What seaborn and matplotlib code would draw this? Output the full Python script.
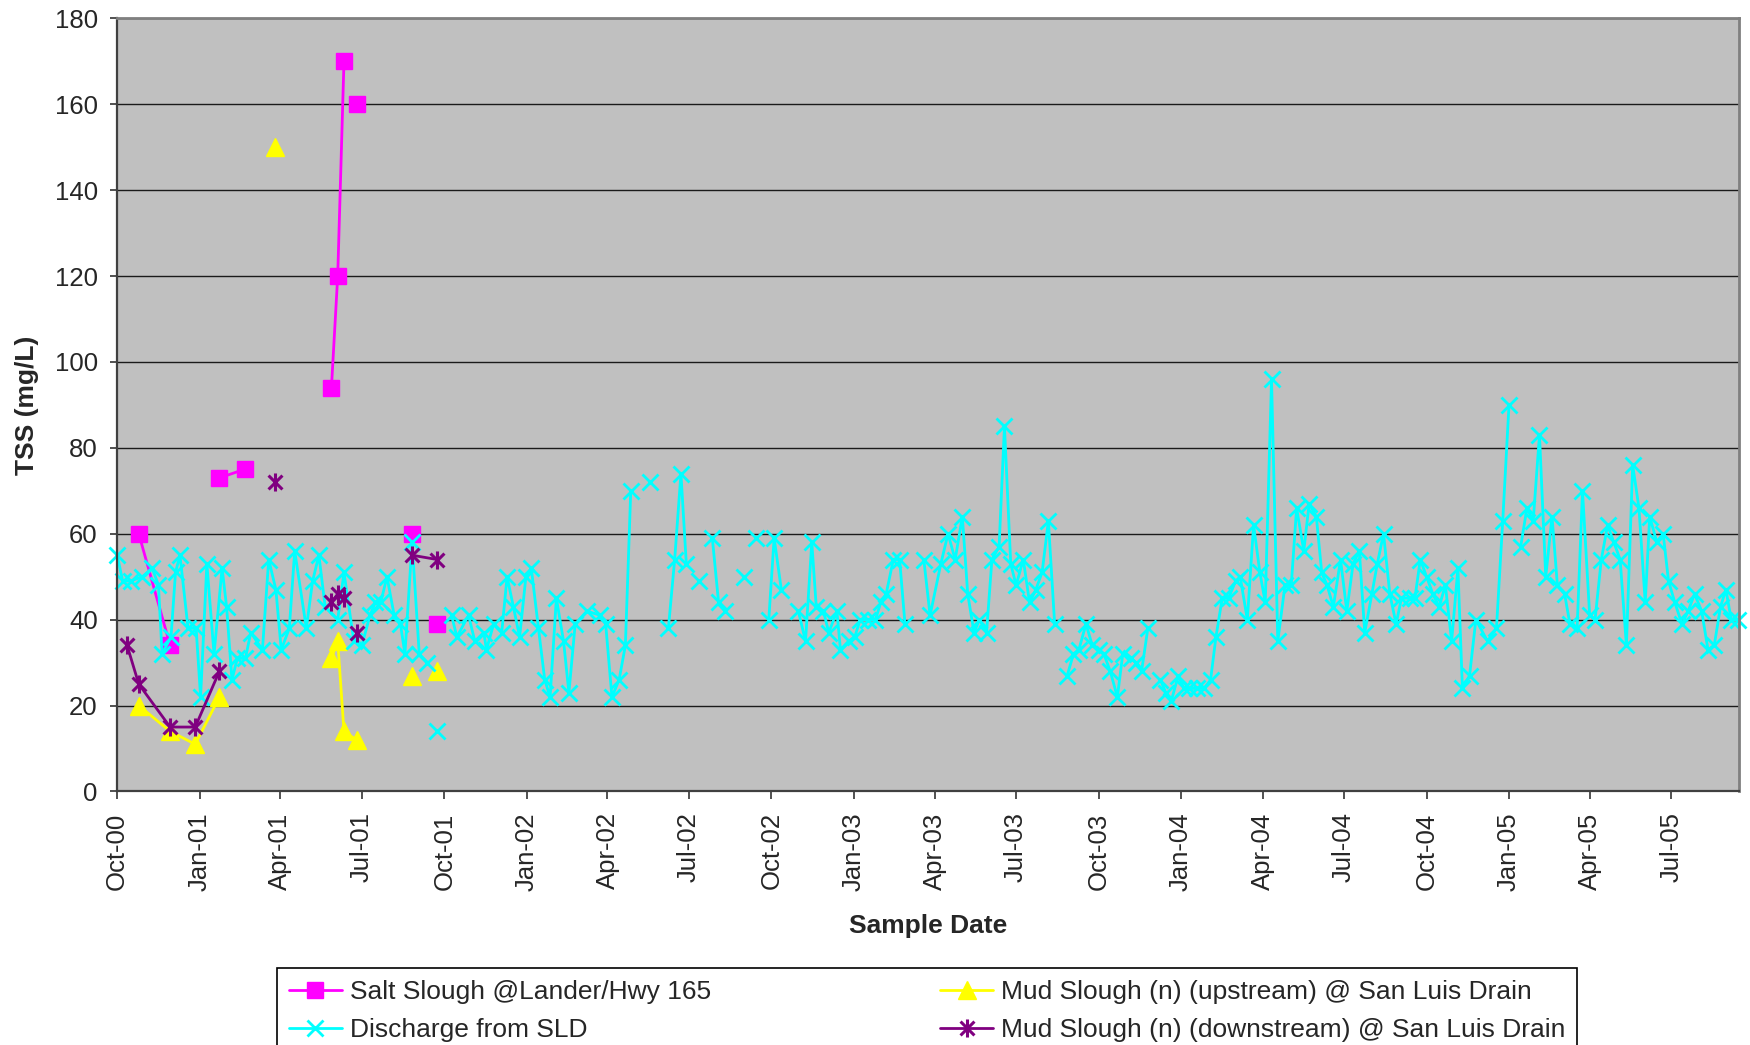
import matplotlib
matplotlib.use("Agg")
import matplotlib.pyplot as plt
import matplotlib.dates as mdates
from matplotlib.lines import Line2D
from matplotlib.path import Path
import numpy as np
import pandas as pd
import seaborn as sns

# None = break in the line (blank cell in the original sheet)
salt_dates = ["2000-10-25", "2000-11-29", None, "2001-01-23", "2001-02-20", None,
              "2001-05-28", "2001-06-04", "2001-06-11", None, "2001-06-25", None,
              "2001-08-26", None, "2001-09-23"]
salt_tss = [60, 34, None, 73, 75, None, 94, 120, 170, None, 160, None, 60, None, 39]

mud_up_dates = ["2000-10-25", "2000-11-29", "2000-12-27", "2001-01-23", None,
                "2001-03-26", None, "2001-05-28", "2001-06-04", "2001-06-11",
                "2001-06-25", None, "2001-08-26", None, "2001-09-23"]
mud_up_tss = [20, 14, 11, 22, None, 150, None, 31, 35, 14, 12, None, 27, None, 28]

mud_down_dates = ["2000-10-12", "2000-10-25", "2000-11-29", "2000-12-27", "2001-01-23",
                  None, "2001-03-26", None, "2001-05-28", "2001-06-04", "2001-06-11",
                  None, "2001-06-25", None, "2001-08-26", "2001-09-23"]
mud_down_tss = [34, 25, 15, 15, 28, None, 72, None, 44, 46, 45, None, 37, None, 55, 54]

sld_dates = [
    "2000-10-01", "2000-10-07", "2000-10-16", "2000-10-29", "2000-11-09", "2000-11-16",
    "2000-11-20", "2000-11-30", "2000-12-05", "2000-12-10", "2000-12-19", "2000-12-28",
    "2001-01-02", "2001-01-09", "2001-01-17", "2001-01-26", "2001-01-31", "2001-02-06",
    "2001-02-12", "2001-02-21", "2001-02-27", "2001-03-12", "2001-03-19", "2001-03-27",
    "2001-04-02", "2001-04-11", "2001-04-17", "2001-04-30", "2001-05-07", "2001-05-14",
    "2001-05-21", "2001-06-04", "2001-06-11", "2001-06-22", "2001-07-01", "2001-07-10",
    "2001-07-16", "2001-07-22", "2001-07-29", "2001-08-06", "2001-08-13", "2001-08-18",
    "2001-08-26", "2001-09-03", "2001-09-12", None, "2001-09-23", None,
    "2001-10-09", "2001-10-15", "2001-10-28", "2001-11-04", "2001-11-14", "2001-11-17",
    "2001-11-25", "2001-12-04", "2001-12-10", "2001-12-17", "2001-12-24", "2001-12-31",
    "2002-01-06", "2002-01-14", "2002-01-21", "2002-01-27", "2002-02-03", "2002-02-11",
    "2002-02-17", "2002-02-24", "2002-03-09", "2002-03-24", "2002-03-30", "2002-04-06",
    "2002-04-14", "2002-04-21", "2002-04-27", None, "2002-05-18", None,
    "2002-06-08", "2002-06-15", "2002-06-22", "2002-06-28", None, "2002-07-12", None,
    "2002-07-27", "2002-08-03", "2002-08-10", None, "2002-08-31", None, "2002-09-14", None,
    "2002-09-28", "2002-10-04", "2002-10-12", None,
    "2002-10-31", "2002-11-08", "2002-11-15", "2002-11-20", "2002-11-28", "2002-12-04",
    "2002-12-13", "2002-12-17", "2002-12-26", "2003-01-02", "2003-01-08", "2003-01-17",
    "2003-01-25", "2003-01-31", "2003-02-06", "2003-02-14", "2003-02-21", "2003-02-27", None,
    "2003-03-20", "2003-03-27", "2003-04-08", "2003-04-16", "2003-04-24", "2003-05-02",
    "2003-05-08", "2003-05-15", "2003-05-21", "2003-05-29", "2003-06-04", "2003-06-12",
    "2003-06-18", "2003-06-25", "2003-07-01", "2003-07-09", "2003-07-16", "2003-07-23",
    "2003-07-30", "2003-08-06", "2003-08-13", None,
    "2003-08-27", "2003-09-03", "2003-09-09", "2003-09-17", "2003-09-24", "2003-10-01",
    "2003-10-07", "2003-10-14", "2003-10-22", "2003-10-28", "2003-11-06", "2003-11-12",
    "2003-11-18", "2003-11-25", None,
    "2003-12-09", "2003-12-15", "2003-12-21", "2003-12-29", "2004-01-04", "2004-01-10",
    "2004-01-19", "2004-01-27", "2004-02-03", "2004-02-09", "2004-02-16", "2004-02-23",
    "2004-03-02", "2004-03-07", "2004-03-15", "2004-03-22", "2004-03-29", "2004-04-04",
    "2004-04-11", "2004-04-18", "2004-04-26", "2004-05-03", "2004-05-09", "2004-05-17",
    "2004-05-23", "2004-05-31", "2004-06-06", "2004-06-12", "2004-06-19", "2004-06-27",
    "2004-07-04", "2004-07-11", "2004-07-18", "2004-07-24", "2004-08-01", "2004-08-07",
    "2004-08-14", "2004-08-21", "2004-08-28", "2004-09-03", "2004-09-12", "2004-09-18",
    "2004-09-24", "2004-10-01", "2004-10-08", "2004-10-15", "2004-10-22", "2004-10-29",
    "2004-11-05", "2004-11-10", "2004-11-18", "2004-11-25", "2004-12-08", "2004-12-18",
    "2004-12-25", "2005-01-01", None,
    "2005-01-14", "2005-01-21", "2005-01-28", "2005-02-04", "2005-02-11", "2005-02-18",
    "2005-02-24", "2005-03-04", "2005-03-10", "2005-03-18", "2005-03-24", "2005-04-01",
    "2005-04-07", "2005-04-14", "2005-04-21", "2005-04-28", "2005-05-05", "2005-05-12",
    "2005-05-19", "2005-05-26", "2005-06-02", "2005-06-07", "2005-06-15", "2005-06-22",
    "2005-06-28", "2005-07-05", "2005-07-13", "2005-07-20", "2005-07-27", "2005-08-04",
    "2005-08-11", "2005-08-18", "2005-08-25", "2005-08-31", "2005-09-06", "2005-09-14",
]
sld_tss = [
    55, 49, 49, 50, 52, 48,
    32, 36, 51, 55, 38, 38,
    22, 53, 32, 52, 43, 26,
    31, 31, 37, 33, 54, 47,
    33, 38, 56, 38, 49, 55,
    43, 40, 51, 35, 34, 41,
    44, 44, 50, 41, 39, 32,
    58, 32, 30, None, 14, None,
    41, 36, 41, 35, 37, 33,
    39, 37, 50, 43, 36, 50,
    52, 38, 26, 22, 45, 35,
    23, 39, 42, 41, 39, 22,
    26, 34, 70, None, 72, None,
    38, 54, 74, 53, None, 49, None,
    59, 44, 42, None, 50, None, 59, None,
    40, 59, 47, None,
    42, 35, 58, 43, 42, 37,
    42, 33, 35, 36, 40, 40,
    40, 44, 46, 54, 54, 39, None,
    54, 41, 53, 60, 54, 64,
    46, 37, 40, 37, 54, 57,
    85, 53, 48, 54, 44, 47,
    51, 63, 39, None,
    27, 32, 33, 39, 34, 33,
    32, 28, 22, 32, 31, 30,
    28, 38, None,
    26, 23, 21, 27, 24, 24,
    24, 24, 26, 36, 45, 45,
    49, 50, 40, 62, 51, 44,
    96, 35, 48, 48, 66, 56,
    67, 64, 51, 48, 43, 54,
    42, 53, 56, 37, 46, 53,
    60, 46, 39, 45, 45, 45,
    54, 50, 46, 43, 48, 35,
    52, 24, 27, 40, 35, 38,
    63, 90, None,
    57, 66, 63, 83, 50, 64,
    48, 46, 39, 38, 70, 41,
    40, 54, 62, 58, 54, 34,
    76, 66, 44, 64, 58, 60,
    49, 44, 39, 42, 46, 42,
    33, 34, 43, 47, 40, 40,
]

y_ticks = list(range(0, 181, 20))
x_start, x_end = "2000-10-01", "2005-09-15"


def to_frame(dates, values):
    df = pd.DataFrame({"date": pd.to_datetime(dates), "tss": values})
    df["seg"] = df["tss"].isna().cumsum()
    return df.dropna()


# Excel style "star" marker: an X with a vertical stroke
star = Path([(-1, -1), (1, 1), (-1, 1), (1, -1), (0, -1.3), (0, 1.3)],
            [Path.MOVETO, Path.LINETO, Path.MOVETO, Path.LINETO, Path.MOVETO, Path.LINETO])

series = [
    ("Salt Slough @Lander/Hwy 165", salt_dates, salt_tss, "#FF00FF", "s", 12, 1.0),
    ("Mud Slough (n) (upstream) @ San Luis Drain", mud_up_dates, mud_up_tss, "#FFFF00", "^", 13, 1.0),
    ("Discharge from SLD", sld_dates, sld_tss, "#00FFFF", "x", 11, 2.0),
    ("Mud Slough (n) (downstream) @ San Luis Drain", mud_down_dates, mud_down_tss, "#800080", star, 13, 2.2),
]

sns.set_style("white")
plt.rcParams["font.family"] = ["Liberation Sans", "DejaVu Sans"]

fig, ax = plt.subplots(figsize=(17.5, 10.45), dpi=100)
fig.subplots_adjust(left=0.0670, right=0.9939, top=0.9825, bottom=0.2426)
ax.set_facecolor("#C0C0C0")

handles = {}
for label, dates, vals, color, mk, ms, mew in series:
    df = to_frame(dates, vals)
    sns.lineplot(data=df, x="date", y="tss", units="seg", estimator=None, sort=False,
                 color=color, lw=2.0, marker=mk, markersize=ms, mec=color, mfc=color,
                 mew=mew, clip_on=False, legend=False, ax=ax)
    handles[label] = Line2D([], [], color=color, lw=2.0, marker=mk, markersize=ms,
                            mec=color, mfc=color, mew=mew)

ax.set_ylim(0, 180)
ax.set_yticks(y_ticks)
ax.set_xlim(pd.Timestamp(x_start), pd.Timestamp(x_end))
ax.xaxis.set_major_locator(mdates.MonthLocator(bymonth=[1, 4, 7, 10]))
ax.xaxis.set_major_formatter(mdates.DateFormatter("%b-%y"))
ax.yaxis.grid(True, color="#1a1a1a", lw=1.0)
ax.set_axisbelow(True)

ax.tick_params(axis="y", which="major", direction="out", length=5, width=1.2,
               pad=9, labelsize=18.5, left=True, color="#333333")
ax.tick_params(axis="x", which="major", direction="out", length=6, width=1.2,
               pad=9, labelsize=18.5, bottom=True, labelrotation=90, color="#333333")

for side in ["left", "bottom"]:
    ax.spines[side].set_color("#404040")
    ax.spines[side].set_linewidth(1.6)
for side in ["top", "right"]:
    ax.spines[side].set_color("#808080")
    ax.spines[side].set_linewidth(2.0)

ax.set_ylabel("TSS (mg/L)", fontsize=19, fontweight="bold")
ax.yaxis.set_label_coords(-0.048, 0.5)
ax.set_xlabel("Sample Date", fontsize=19, fontweight="bold")
ax.xaxis.set_label_coords(0.5, -0.159)

order = ["Salt Slough @Lander/Hwy 165", "Discharge from SLD",
         "Mud Slough (n) (upstream) @ San Luis Drain",
         "Mud Slough (n) (downstream) @ San Luis Drain"]
leg = fig.legend([handles[k] for k in order], order, loc="upper left",
                 bbox_to_anchor=(0.1583, 0.0737), ncol=2, fontsize=19,
                 frameon=True, fancybox=False, shadow=False, framealpha=1,
                 edgecolor="black", handlelength=2.0, handletextpad=0.3,
                 columnspacing=8.7, labelspacing=0.55, borderpad=0.45,
                 borderaxespad=0)
leg.get_frame().set_linewidth(1.2)

fig.savefig("out.png", dpi=100)
